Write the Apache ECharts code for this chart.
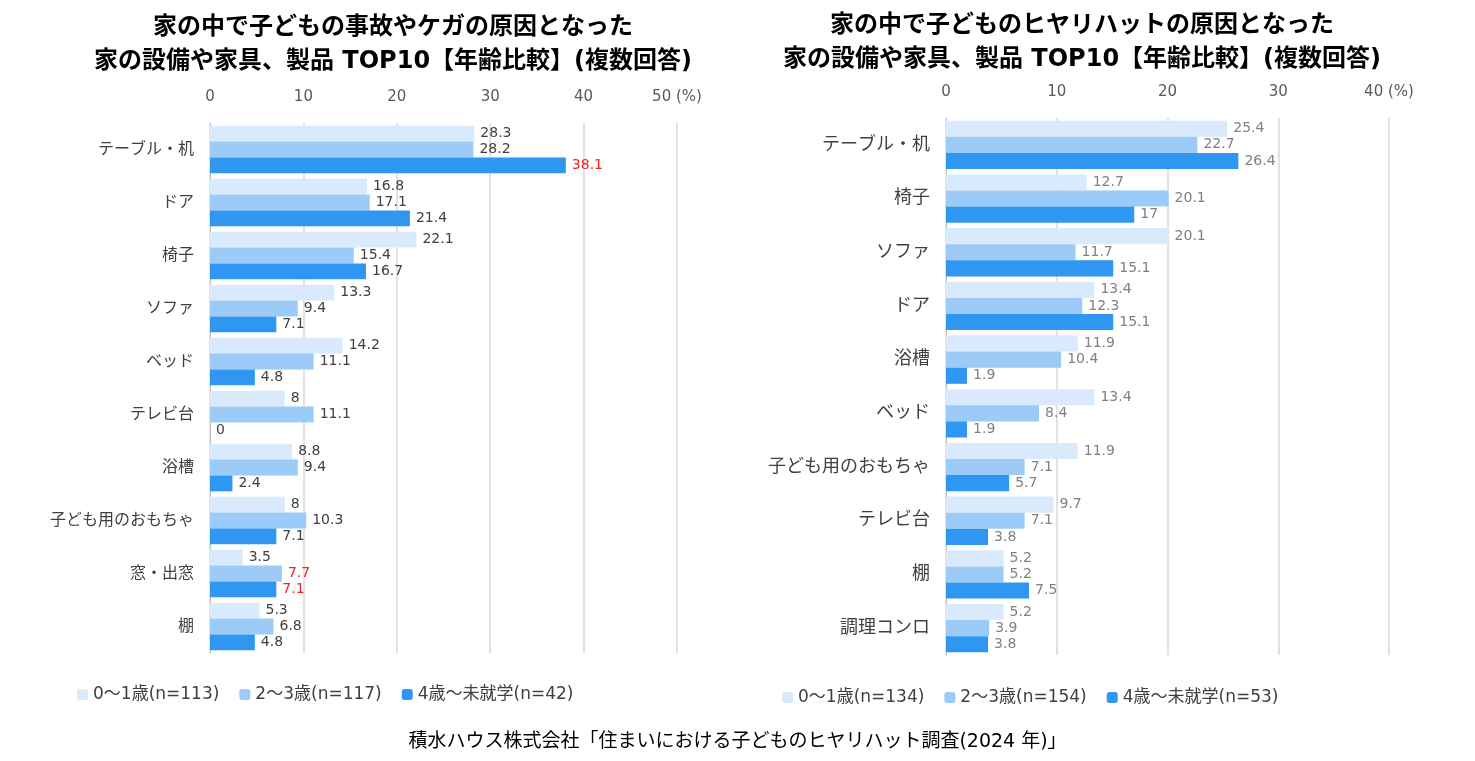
<!DOCTYPE html>
<html><head><meta charset="utf-8">
<script src="https://cdn.jsdelivr.net/npm/echarts@6/dist/echarts.min.js"></script>
<style>html,body{margin:0;padding:0;background:#fff}#c{width:1475px;height:761px}</style>
</head><body><div id="c"></div>
<script>
const leftCats = ['テーブル・机', 'ドア', '椅子', 'ソファ', 'ベッド', 'テレビ台', '浴槽', '子ども用のおもちゃ', '窓・出窓', '棚'];
const leftA = [28.3, 16.8, 22.1, 13.3, 14.2, 8, 8.8, 8, 3.5, 5.3];
const leftB = [28.2, 17.1, 15.4, 9.4, 11.1, 11.1, 9.4, 10.3, 7.7, 6.8];
const leftC = [38.1, 21.4, 16.7, 7.1, 4.8, 0, 2.4, 7.1, 7.1, 4.8];
const leftNames = ['0〜1歳(n=113)', '2〜3歳(n=117)', '4歳〜未就学(n=42)'];
const leftRed = { '2-0': 1, '1-8': 1, '2-8': 1 };

const rightCats = ['テーブル・机', '椅子', 'ソファ', 'ドア', '浴槽', 'ベッド', '子ども用のおもちゃ', 'テレビ台', '棚', '調理コンロ'];
const rightA = [25.4, 12.7, 20.1, 13.4, 11.9, 13.4, 11.9, 9.7, 5.2, 5.2];
const rightB = [22.7, 20.1, 11.7, 12.3, 10.4, 8.4, 7.1, 7.1, 5.2, 3.9];
const rightC = [26.4, 17, 15.1, 15.1, 1.9, 1.9, 5.7, 3.8, 7.5, 3.8];
const rightNames = ['0〜1歳(n=134)', '2〜3歳(n=154)', '4歳〜未就学(n=53)'];

const colors = ['#d9eafc', '#9ccbf8', '#2f97f2'];
const font = "'DejaVu Sans', 'Noto Sans CJK JP', sans-serif";

const chart = echarts.init(document.getElementById('c'));

function mkSeries(idx, arrs, names, labelColor, red) {
  return arrs.map((arr, s) => ({
    name: names[s], type: 'bar', xAxisIndex: idx, yAxisIndex: idx,
    barGap: '0%', barCategoryGap: '10%',
    itemStyle: { color: colors[s] },
    data: arr.map((v, i) => ({
      value: v,
      label: red && red[s + '-' + i] ? { color: '#e8262a' } : undefined
    })),
    label: { show: true, position: 'right', color: labelColor, fontSize: 14, fontFamily: font, distance: 6 }
  }));
}

function mkX(idx, max) {
  return {
    gridIndex: idx, type: 'value', position: 'top', min: 0, max: max, interval: 10,
    axisLabel: { color: '#595959', fontSize: 15, fontFamily: font, margin: 18,
      formatter: v => v === max ? v + ' (%)' : v },
    splitLine: { lineStyle: { color: '#d9d9d9', width: 1.5 } },
    axisLine: { show: false }, axisTick: { show: false }
  };
}
function mkY(idx, cats, size) {
  return {
    gridIndex: idx, type: 'category', inverse: true, data: cats,
    axisLabel: { color: '#404040', fontSize: size, fontFamily: font, margin: 16 },
    axisLine: { lineStyle: { color: '#bfbfbf' } }, axisTick: { show: false }
  };
}
const titleStyle = { fontSize: 24, fontWeight: 'bold', color: '#000', fontFamily: font, lineHeight: 34 };

chart.setOption({
  animation: false,
  title: [
    { text: '家の中で子どもの事故やケガの原因となった\n家の設備や家具、製品 TOP10【年齢比較】(複数回答)', left: 388, top: 6, textAlign: 'center', textStyle: titleStyle },
    { text: '家の中で子どものヒヤリハットの原因となった\n家の設備や家具、製品 TOP10【年齢比較】(複数回答)', left: 1077, top: 4, textAlign: 'center', textStyle: titleStyle },
    { text: '積水ハウス株式会社「住まいにおける子どものヒヤリハット調査(2024 年)」', left: 'center', top: 728,
      textStyle: { fontSize: 19, fontWeight: 'normal', color: '#000', fontFamily: font } }
  ],
  legend: [
    { left: 72, top: 681, itemWidth: 11, itemHeight: 11, itemGap: 20, data: leftNames,
      textStyle: { fontSize: 17, color: '#404040', fontFamily: font } },
    { left: 777, top: 684, itemWidth: 11, itemHeight: 11, itemGap: 20, data: rightNames,
      textStyle: { fontSize: 17, color: '#404040', fontFamily: font } }
  ],
  grid: [
    { left: 210, width: 467, top: 123, height: 530 },
    { left: 946, width: 443, top: 118, height: 537 }
  ],
  xAxis: [mkX(0, 50), mkX(1, 40)],
  yAxis: [mkY(0, leftCats, 16), mkY(1, rightCats, 18)],
  series: [
    ...mkSeries(0, [leftA, leftB, leftC], leftNames, '#404040', leftRed),
    ...mkSeries(1, [rightA, rightB, rightC], rightNames, '#808080', null)
  ]
});
</script></body></html>
